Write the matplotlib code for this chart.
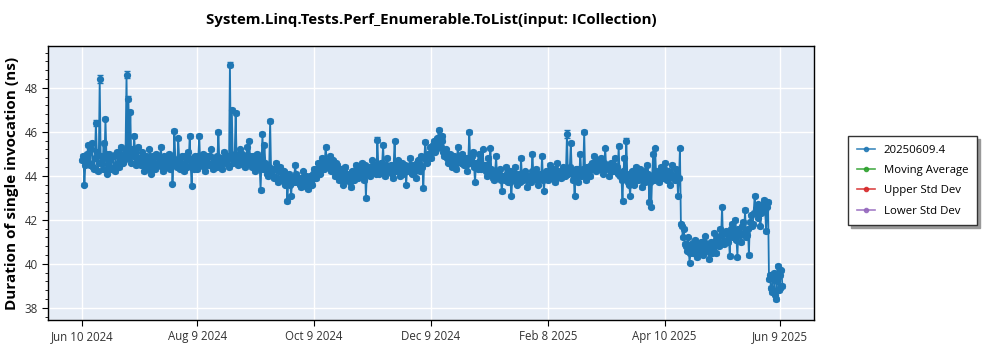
import matplotlib
matplotlib.use("Agg")
import matplotlib.pyplot as plt
from matplotlib.lines import Line2D
from matplotlib.ticker import AutoMinorLocator, MultipleLocator
import pandas as pd

plt.rcParams['font.family'] = ['Open Sans', 'DejaVu Sans']

# two runs per day starting Jun 10 2024 (morning / evening)
start_date = "2024-06-10"
values_am = [
    44.7, 43.6, 44.8, 45.4, 44.5, 45.5, 44.3, 46.4, 44.2, 48.4,
    44.6, 45.5, 46.6, 44.1, 45.0, 44.3, 44.9, 44.2, 45.1, 44.4,
    45.3, 44.6, 45.1, 48.6, 47.5, 46.9, 45.2, 45.8, 44.5, 45.3,
    44.7, 45.1, 44.2, 44.9, 44.4, 45.2, 44.1, 44.8, 44.3, 44.9,
    44.5, 45.3, 44.2, 44.7, 44.4, 45.0, 44.6, 43.65, 46.05, 44.5,
    45.7, 44.3, 44.9, 44.2, 44.8, 45.1, 45.8, 43.55, 44.6, 44.9,
    44.3, 45.8, 44.6, 45.0, 44.2, 44.9, 44.5, 45.2, 44.3, 44.8,
    44.4, 46.0, 44.7, 44.3, 45.1, 44.6, 44.9, 49.05, 47.0, 44.8,
    46.85, 44.5, 45.2, 44.7, 44.9, 44.4, 45.3, 45.6, 44.6, 44.9,
    44.2, 45.0, 44.4, 43.35, 45.9, 45.4, 44.5, 44.0, 46.5, 44.3,
    43.9, 44.6, 43.7, 44.4, 43.8, 44.2, 43.6, 42.85, 44.1, 43.1,
    43.9, 44.5, 43.7, 43.9, 43.5, 44.2, 43.6, 43.8, 43.4, 44.0,
    43.6, 44.3, 43.9, 44.6, 44.1, 44.8, 44.3, 45.3, 44.4, 44.9,
    44.2, 44.7, 44.0, 44.5, 43.8, 44.3, 43.6, 44.4, 43.9, 44.1,
    43.5, 44.2, 43.8, 44.5, 43.9, 44.1, 44.6, 43.8, 43.0, 44.3,
    44.0, 44.7, 44.2, 44.5, 45.65, 44.1, 44.6, 45.4, 44.0, 44.8,
    44.2, 44.5, 43.9, 45.6, 44.3, 44.7, 44.0, 44.6, 44.2, 43.6,
    44.4, 44.8, 44.1, 44.5, 43.9, 44.7, 44.2, 44.9, 43.45, 45.55,
    44.6, 45.0, 44.8, 45.4, 45.1, 45.7, 46.1, 45.3, 45.8, 44.9,
    45.2, 44.6, 45.0, 44.4, 44.9, 44.3, 45.3, 44.7, 45.0, 44.5,
    44.8, 44.2, 46.0, 44.7, 45.1, 43.7, 44.6, 45.0, 44.3, 45.2,
    44.5, 44.0, 44.8, 45.25, 44.2, 43.8, 44.9, 43.9, 44.3, 43.3,
    44.0, 44.4, 43.7, 44.2, 43.1, 43.9, 44.4, 43.6, 44.1, 44.8,
    43.8, 44.2, 43.5, 44.0, 43.7, 45.0, 43.9, 44.3, 43.6, 44.1,
    44.9, 43.33, 44.2, 43.8, 44.5, 43.9, 44.3, 43.7, 44.6, 44.1,
    43.9, 44.4, 44.0, 45.9, 44.2, 45.5, 43.8, 43.1, 44.3, 43.7,
    45.0, 44.1, 46.0, 43.8, 44.4, 44.0, 44.6, 44.9, 44.2, 44.7,
    44.3, 44.8, 44.1, 45.25, 44.5, 44.0, 44.6, 44.2, 44.8, 44.4,
    45.35, 44.1, 42.85, 44.8, 45.6, 43.7, 43.1, 44.2, 43.6, 44.4,
    43.8, 44.3, 43.5, 44.1, 43.7, 44.5, 42.8, 42.6, 45.0, 45.25,
    44.1, 43.7, 44.4, 43.9, 44.6, 43.8, 44.2, 43.6, 44.5, 44.0,
    44.3, 43.1, 45.25, 41.7, 41.6, 40.8, 41.2, 40.06, 40.9, 40.5,
    41.1, 40.3, 40.8, 41.0, 40.4, 41.25, 40.7, 40.2, 41.0, 40.6,
    41.4, 40.5, 41.1, 41.6, 42.6, 40.9, 41.5, 41.0, 40.35, 41.8,
    41.2, 42.0, 40.3, 41.4, 41.0, 41.9, 42.45, 41.3, 40.4, 42.2,
    41.8, 43.1, 42.4, 42.7, 41.7, 42.5, 42.9, 41.5, 42.8, 39.5,
    38.7, 39.6, 38.4, 39.9, 38.9, 39.7,
]
values_pm = [
    44.9, 44.5, 45.0, 44.6, 45.2, 44.4, 44.8, 45.1, 44.6, 44.9,
    44.3, 44.8, 45.0, 44.5, 44.7, 44.9, 44.4, 45.0, 44.6, 44.8,
    44.9, 44.7, 45.2, 44.8, 45.0, 44.6, 44.9, 45.1, 44.7, 44.8,
    44.5, 44.9, 44.6, 44.8, 44.3, 44.7, 44.9, 44.5, 45.0, 44.6,
    44.8, 44.4, 44.9, 44.6, 44.8, 44.3, 44.9, 44.5, 44.7, 44.4,
    44.8, 44.6, 44.5, 44.9, 44.4, 44.7, 44.5, 44.8, 44.3, 44.7,
    44.9, 44.5, 44.8, 44.4, 44.7, 44.6, 44.9, 44.5, 44.8, 44.6,
    44.9, 44.5, 44.8, 44.6, 44.7, 44.9, 44.4, 44.8, 44.6, 45.0,
    44.7, 44.9, 44.6, 45.0, 44.5, 44.8, 44.6, 44.9, 44.4, 44.7,
    44.6, 44.8, 44.5, 44.7, 44.3, 44.6, 44.1, 44.4, 44.2, 44.0,
    44.3, 43.9, 44.2, 43.8, 44.1, 43.7, 44.0, 43.8, 43.6, 43.9,
    43.7, 44.1, 43.8, 43.6, 43.9, 43.7, 44.0, 43.5, 43.8, 43.7,
    44.1, 43.9, 44.3, 44.2, 44.5, 44.3, 44.6, 44.4, 44.7, 44.5,
    44.4, 44.3, 44.6, 44.2, 44.1, 43.9, 44.2, 43.8, 44.0, 43.7,
    44.0, 43.8, 44.1, 44.3, 44.0, 44.4, 44.2, 44.5, 44.1, 44.4,
    44.3, 44.2, 44.5, 44.1, 44.4, 44.3, 44.6, 44.2, 44.5, 44.3,
    44.4, 44.1, 44.5, 44.2, 44.6, 44.3, 44.4, 44.1, 44.5, 44.2,
    44.3, 44.5, 44.4, 44.2, 44.6, 44.3, 44.5, 44.4, 44.8, 44.9,
    45.0, 45.3, 45.1, 45.6, 45.2, 45.5, 45.3, 45.6, 45.1, 45.0,
    44.8, 44.9, 44.6, 44.8, 44.5, 44.7, 44.9, 44.6, 44.8, 44.7,
    44.5, 44.8, 44.6, 44.9, 44.4, 44.6, 44.3, 44.7, 44.5, 44.4,
    44.2, 44.5, 44.1, 44.3, 43.9, 44.2, 44.0, 44.1, 43.8, 44.0,
    43.8, 44.1, 43.9, 43.7, 44.0, 43.8, 44.1, 43.9, 43.7, 44.0,
    44.1, 43.9, 44.0, 43.8, 44.2, 43.9, 44.1, 43.8, 44.0, 43.9,
    43.8, 44.0, 43.9, 44.2, 44.0, 44.3, 44.1, 43.9, 44.2, 44.0,
    44.2, 44.0, 44.3, 44.1, 44.4, 44.2, 44.0, 44.3, 44.1, 44.2,
    44.0, 44.3, 44.1, 44.4, 44.2, 44.5, 44.3, 44.4, 44.6, 44.3,
    44.5, 44.4, 44.6, 44.3, 44.5, 44.4, 44.2, 44.5, 44.3, 44.1,
    44.0, 43.8, 44.2, 43.9, 44.1, 43.6, 44.0, 43.8, 44.1, 43.9,
    44.2, 44.0, 43.8, 44.2, 43.9, 44.1, 43.7, 44.0, 43.8, 44.2,
    43.9, 44.2, 44.0, 44.3, 44.1, 44.2, 43.9, 44.1, 44.0, 43.8,
    44.1, 43.9, 41.8, 41.2, 40.9, 40.6, 40.8, 40.5, 40.7, 41.0,
    40.6, 40.9, 40.5, 40.7, 41.0, 40.6, 40.9, 40.7, 40.5, 40.8,
    41.0, 41.2, 40.8, 41.3, 41.0, 41.4, 41.1, 41.3, 41.6, 41.2,
    41.5, 41.1, 41.6, 41.3, 41.7, 41.4, 41.2, 41.6, 41.9, 41.7,
    42.3, 42.5, 42.1, 42.6, 42.3, 42.7, 42.4, 42.6, 39.3, 38.9,
    39.4, 38.6, 39.2, 38.8, 39.5, 39.0,
]
base_err = 0.08
spike_err_am = {7: 0.12, 9: 0.2, 23: 0.15, 24: 0.12, 48: 0.1, 77: 0.1,
                98: 0.1, 154: 0.1, 202: 0.1, 253: 0.2, 262: 0.1, 284: 0.12}

series_label = "20250609.4"
legend_labels = ["Moving Average", "Upper Std Dev", "Lower Std Dev"]
tick_dates = ["2024-06-10", "2024-08-09", "2024-10-09", "2024-12-09",
              "2025-02-08", "2025-04-10", "2025-06-09"]

days = pd.date_range(start_date, periods=len(values_am), freq="D")
df = pd.concat([
    pd.DataFrame({"t": days, "v": values_am,
                  "e": [spike_err_am.get(i, base_err) for i in range(len(values_am))]}),
    pd.DataFrame({"t": days + pd.Timedelta(hours=12), "v": values_pm,
                  "e": [base_err] * len(values_pm)}),
]).sort_values("t")

fig = plt.figure(figsize=(10, 3.5), dpi=100)
ax = fig.add_axes([0.048, 0.0857, 0.766, 0.783])
ax.set_facecolor("#E5ECF6")

blue = "#1f77b4"
ax.errorbar(df["t"], df["v"], yerr=df["e"], color=blue, lw=1.3, marker="o",
            markersize=4.2, elinewidth=1, capsize=2.5, ecolor=blue, zorder=3)

ax.set_xlim(pd.Timestamp("2024-05-23"), pd.Timestamp("2025-06-27"))
ax.set_ylim(37.45, 49.9)
ax.yaxis.set_major_locator(MultipleLocator(2))
ax.yaxis.set_minor_locator(AutoMinorLocator(5))
ticks = pd.to_datetime(tick_dates)
ax.set_xticks(ticks)
ax.set_xticklabels([f"{d.strftime('%b')} {d.day} {d.year}" for d in ticks])

ax.grid(True, which="major", color="white", lw=1)
ax.set_axisbelow(True)
for s in ax.spines.values():
    s.set_color("black")
    s.set_linewidth(1)
ax.tick_params(axis="both", which="major", length=4, labelsize=8.3, labelcolor="#333333")
ax.tick_params(axis="y", which="minor", length=2)

ax.set_title("System.Linq.Tests.Perf_Enumerable.ToList(input: ICollection)",
             fontsize=10.8, fontweight="bold", pad=16)
ax.set_ylabel("Duration of single invocation (ns)", fontsize=11, fontweight="bold", labelpad=4)

handle_colors = [blue, "#2ca02c", "#d62728", "#9467bd"]
handles = [Line2D([], [], color=c, marker="o", markersize=3, lw=1.2, alpha=0.85)
           for c in handle_colors]
leg = ax.legend(handles, [series_label] + legend_labels,
                loc="upper left", bbox_to_anchor=(1.037, 0.692), fontsize=8.2,
                frameon=True, fancybox=False,
                shadow={"ox": 2, "oy": -2, "color": "0.6", "alpha": 1},
                borderpad=0.75, handlelength=1.6, labelspacing=0.82)
leg.get_frame().set_edgecolor("#333333")
leg.get_frame().set_linewidth(1)

fig.savefig("out.png", dpi=100)
